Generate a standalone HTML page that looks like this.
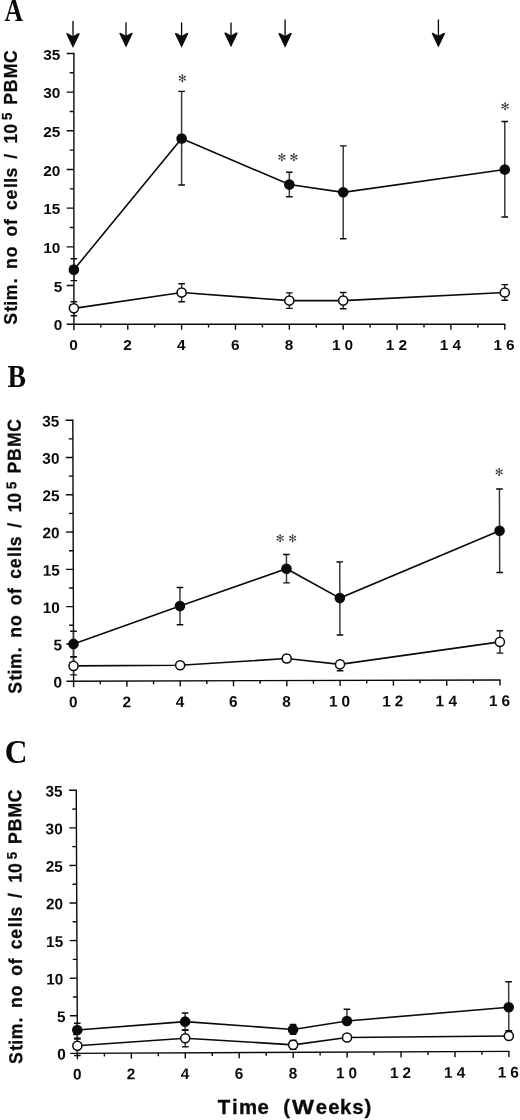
<!DOCTYPE html>
<html lang="en"><head><meta charset="utf-8"><title>Figure</title>
<style>html,body{margin:0;padding:0;background:#fff}body{width:520px;height:1120px;overflow:hidden}svg{display:block}</style>
</head><body>
<svg width="520" height="1120" viewBox="0 0 520 1120">
<rect width="520" height="1120" fill="#fff"/>
<text transform="translate(4.4 21.3) scale(0.84 1)" font-family='"Liberation Serif", serif' font-weight="bold" font-size="30.6" fill="#0a0a0a">A</text>
<text transform="translate(7.6 387) scale(0.9 1)" font-family='"Liberation Serif", serif' font-weight="bold" font-size="30.8" fill="#0a0a0a">B</text>
<text transform="translate(4.8 762.7) scale(0.94 1)" font-family='"Liberation Serif", serif' font-weight="bold" font-size="33.5" fill="#0a0a0a">C</text>
<line x1="73" y1="21" x2="73" y2="40" stroke="#0a0a0a" stroke-width="1.35"/><path d="M73 48 L66.3 33.9 L66.8 33.1 L67.9 33.3 L73 36.2 L78.1 33.3 L79.2 33.1 L79.7 33.9 Z" fill="#0a0a0a"/>
<line x1="126" y1="22.3" x2="126" y2="39.6" stroke="#0a0a0a" stroke-width="1.35"/><path d="M126 47.6 L119.3 33.5 L119.8 32.7 L120.9 32.9 L126 35.8 L131.1 32.9 L132.2 32.7 L132.7 33.5 Z" fill="#0a0a0a"/>
<line x1="181.6" y1="22.5" x2="181.6" y2="39.8" stroke="#0a0a0a" stroke-width="1.35"/><path d="M181.6 47.8 L174.9 33.7 L175.4 32.9 L176.5 33.1 L181.6 36 L186.7 33.1 L187.8 32.9 L188.3 33.7 Z" fill="#0a0a0a"/>
<line x1="231" y1="22.5" x2="231" y2="39.3" stroke="#0a0a0a" stroke-width="1.35"/><path d="M231 47.3 L224.3 33.2 L224.8 32.4 L225.9 32.6 L231 35.5 L236.1 32.6 L237.2 32.4 L237.7 33.2 Z" fill="#0a0a0a"/>
<line x1="285.1" y1="19.5" x2="285.1" y2="39.8" stroke="#0a0a0a" stroke-width="1.35"/><path d="M285.1 47.8 L278.4 33.7 L278.9 32.9 L280 33.1 L285.1 36 L290.2 33.1 L291.3 32.9 L291.8 33.7 Z" fill="#0a0a0a"/>
<line x1="438.4" y1="19.5" x2="438.4" y2="39.6" stroke="#0a0a0a" stroke-width="1.35"/><path d="M438.4 47.6 L431.7 33.5 L432.2 32.7 L433.3 32.9 L438.4 35.8 L443.5 32.9 L444.6 32.7 L445.1 33.5 Z" fill="#0a0a0a"/>
<g transform="rotate(0 73.9 324.2)">
<path d="M73.9 52.87 V330.2 M66.7 324.2 H505.38" stroke="#0a0a0a" stroke-width="1.4" fill="none"/>
<path d="M66.7 285.52H73.9M66.7 246.85H73.9M66.7 208.17H73.9M66.7 169.5H73.9M66.7 130.82H73.9M66.7 92.15H73.9M66.7 53.47H73.9M69.7 304.86H73.9M69.7 266.19H73.9M69.7 227.51H73.9M69.7 188.84H73.9M69.7 150.16H73.9M69.7 111.49H73.9M69.7 72.81H73.9M100.83 324.2V327.4M127.76 324.2V329.8M154.69 324.2V327.4M181.62 324.2V329.8M208.55 324.2V327.4M235.48 324.2V329.8M262.41 324.2V327.4M289.34 324.2V329.8M316.27 324.2V327.4M343.2 324.2V329.8M370.13 324.2V327.4M397.06 324.2V329.8M423.99 324.2V327.4M450.92 324.2V329.8M477.85 324.2V327.4M504.78 324.2V329.8" stroke="#0a0a0a" stroke-width="1.4" fill="none"/>
<text transform="translate(62.4 330.4) scale(1 1)" text-anchor="end" font-family='"Liberation Sans", sans-serif' font-weight="bold" font-size="15.4" letter-spacing="0" fill="#0a0a0a" stroke="#0a0a0a" stroke-width="0">0</text>
<text transform="translate(62.4 291.72) scale(1 1)" text-anchor="end" font-family='"Liberation Sans", sans-serif' font-weight="bold" font-size="15.4" letter-spacing="0" fill="#0a0a0a" stroke="#0a0a0a" stroke-width="0">5</text>
<text transform="translate(60.4 253.05) scale(1 1)" text-anchor="end" font-family='"Liberation Sans", sans-serif' font-weight="bold" font-size="15.4" letter-spacing="0" fill="#0a0a0a" stroke="#0a0a0a" stroke-width="0">10</text>
<text transform="translate(60.4 214.37) scale(1 1)" text-anchor="end" font-family='"Liberation Sans", sans-serif' font-weight="bold" font-size="15.4" letter-spacing="0" fill="#0a0a0a" stroke="#0a0a0a" stroke-width="0">15</text>
<text transform="translate(60.4 175.7) scale(1 1)" text-anchor="end" font-family='"Liberation Sans", sans-serif' font-weight="bold" font-size="15.4" letter-spacing="0" fill="#0a0a0a" stroke="#0a0a0a" stroke-width="0">20</text>
<text transform="translate(60.4 137.02) scale(1 1)" text-anchor="end" font-family='"Liberation Sans", sans-serif' font-weight="bold" font-size="15.4" letter-spacing="0" fill="#0a0a0a" stroke="#0a0a0a" stroke-width="0">25</text>
<text transform="translate(60.4 98.35) scale(1 1)" text-anchor="end" font-family='"Liberation Sans", sans-serif' font-weight="bold" font-size="15.4" letter-spacing="0" fill="#0a0a0a" stroke="#0a0a0a" stroke-width="0">30</text>
<text transform="translate(60.4 59.67) scale(1 1)" text-anchor="end" font-family='"Liberation Sans", sans-serif' font-weight="bold" font-size="15.4" letter-spacing="0" fill="#0a0a0a" stroke="#0a0a0a" stroke-width="0">35</text>
<text transform="translate(73.6 350.3) scale(1 1)" text-anchor="middle" font-family='"Liberation Sans", sans-serif' font-weight="bold" font-size="15.4" fill="#0a0a0a" stroke="#0a0a0a" stroke-width="0">0</text>
<text transform="translate(127.46 350.3) scale(1 1)" text-anchor="middle" font-family='"Liberation Sans", sans-serif' font-weight="bold" font-size="15.4" fill="#0a0a0a" stroke="#0a0a0a" stroke-width="0">2</text>
<text transform="translate(181.32 350.3) scale(1 1)" text-anchor="middle" font-family='"Liberation Sans", sans-serif' font-weight="bold" font-size="15.4" fill="#0a0a0a" stroke="#0a0a0a" stroke-width="0">4</text>
<text transform="translate(235.18 350.3) scale(1 1)" text-anchor="middle" font-family='"Liberation Sans", sans-serif' font-weight="bold" font-size="15.4" fill="#0a0a0a" stroke="#0a0a0a" stroke-width="0">6</text>
<text transform="translate(289.04 350.3) scale(1 1)" text-anchor="middle" font-family='"Liberation Sans", sans-serif' font-weight="bold" font-size="15.4" fill="#0a0a0a" stroke="#0a0a0a" stroke-width="0">8</text>
<text transform="translate(343.2 350.3) scale(1 1)" x="-11.2 1.29" font-family='"Liberation Sans", sans-serif' font-weight="bold" font-size="15.4" fill="#0a0a0a" stroke="#0a0a0a" stroke-width="0">10</text>
<text transform="translate(397.06 350.3) scale(1 1)" x="-11.2 1.37" font-family='"Liberation Sans", sans-serif' font-weight="bold" font-size="15.4" fill="#0a0a0a" stroke="#0a0a0a" stroke-width="0">12</text>
<text transform="translate(450.92 350.3) scale(1 1)" x="-11.2 1.67" font-family='"Liberation Sans", sans-serif' font-weight="bold" font-size="15.4" fill="#0a0a0a" stroke="#0a0a0a" stroke-width="0">14</text>
<text transform="translate(504.78 350.3) scale(1 1)" x="-11.2 1.34" font-family='"Liberation Sans", sans-serif' font-weight="bold" font-size="15.4" fill="#0a0a0a" stroke="#0a0a0a" stroke-width="0">16</text>
<path d="M73.9 258.68V280.65M181.62 91.38V184.97M289.34 172.21V196.8M343.2 145.91V238.73M504.78 121.54V217.07" stroke="#3a3a3a" stroke-width="1.5" fill="none"/>
<path d="M70.6 258.68H77.2M70.6 280.65H77.2M178.32 91.38H184.92M178.32 184.97H184.92M286.04 172.21H292.64M286.04 196.8H292.64M339.9 145.91H346.5M339.9 238.73H346.5M501.48 121.54H508.08M501.48 217.07H508.08" stroke="#0a0a0a" stroke-width="1.4" fill="none"/>
<polyline points="73.9,269.67 181.62,138.56 289.34,184.58 343.2,192.32 504.78,169.5" stroke="#0a0a0a" stroke-width="1.6" fill="none"/>
<circle cx="73.9" cy="269.67" r="5.3" fill="#0a0a0a"/>
<circle cx="181.62" cy="138.56" r="5.3" fill="#0a0a0a"/>
<circle cx="289.34" cy="184.58" r="5.3" fill="#0a0a0a"/>
<circle cx="343.2" cy="192.32" r="5.3" fill="#0a0a0a"/>
<circle cx="504.78" cy="169.5" r="5.3" fill="#0a0a0a"/>
<path d="M73.9 301.77V315.69M181.62 283.82V301.69M289.34 292.87V308.34M343.2 292.49V308.73M504.78 284.6V300.22" stroke="#3a3a3a" stroke-width="1.5" fill="none"/>
<path d="M70.6 301.77H77.2M70.6 315.69H77.2M178.32 283.82H184.92M178.32 301.69H184.92M286.04 292.87H292.64M286.04 308.34H292.64M339.9 292.49H346.5M339.9 308.73H346.5M501.48 284.6H508.08M501.48 300.22H508.08" stroke="#0a0a0a" stroke-width="1.4" fill="none"/>
<polyline points="73.9,308.34 181.62,292.56 289.34,300.61 343.2,300.61 504.78,292.49" stroke="#0a0a0a" stroke-width="1.6" fill="none"/>
<circle cx="73.9" cy="308.34" r="4.55" fill="#fff" stroke="#0a0a0a" stroke-width="1.5"/>
<circle cx="181.62" cy="292.56" r="4.55" fill="#fff" stroke="#0a0a0a" stroke-width="1.5"/>
<circle cx="289.34" cy="300.61" r="4.55" fill="#fff" stroke="#0a0a0a" stroke-width="1.5"/>
<circle cx="343.2" cy="300.61" r="4.55" fill="#fff" stroke="#0a0a0a" stroke-width="1.5"/>
<circle cx="504.78" cy="292.49" r="4.55" fill="#fff" stroke="#0a0a0a" stroke-width="1.5"/>
<text x="182.5" y="82.1" text-anchor="middle" font-family='"DejaVu Sans", sans-serif' font-size="10.5" fill="#333">&#x273B;</text>
<text x="282" y="161.1" text-anchor="middle" font-family='"DejaVu Sans", sans-serif' font-size="10.5" fill="#333">&#x273B;</text>
<text x="294" y="161.1" text-anchor="middle" font-family='"DejaVu Sans", sans-serif' font-size="10.5" fill="#333">&#x273B;</text>
<text x="505.1" y="110.1" text-anchor="middle" font-family='"DejaVu Sans", sans-serif' font-size="10.5" fill="#333">&#x273B;</text>
<g transform="translate(16.8 0) rotate(-90) scale(0.94 1)" font-family='"Liberation Sans", sans-serif' font-weight="bold" font-size="18.8" fill="#0a0a0a" stroke="#0a0a0a" stroke-width="0.25">
<text y="0" x="-345.54 -331.61 -325.25 -319.32 -301.38 -293.38 -286.13 -273.61 -265.61 -251.59 -239.47 -231.47 -223.39 -212.22 -200.14 -194.29 -188.75 -180.75 -169.01 -161.01 -152.67 -142.34">Stim. no of cells / 10</text>
<text y="-4.6" x="-127.77" font-size="14">5</text>
<text y="0" x="-111.47 -98.07 -83.28 -67.05">PBMC</text>
</g>
</g>
<g transform="rotate(-0.17 73.6 681.2)">
<path d="M73.6 419.61 V687.2 M66.4 681.2 H500.6" stroke="#0a0a0a" stroke-width="1.4" fill="none"/>
<path d="M66.4 643.92H73.6M66.4 606.63H73.6M66.4 569.35H73.6M66.4 532.06H73.6M66.4 494.78H73.6M66.4 457.49H73.6M66.4 420.21H73.6M69.4 662.56H73.6M69.4 625.27H73.6M69.4 587.99H73.6M69.4 550.7H73.6M69.4 513.42H73.6M69.4 476.13H73.6M69.4 438.85H73.6M100.25 681.2V684.4M126.9 681.2V686.8M153.55 681.2V684.4M180.2 681.2V686.8M206.85 681.2V684.4M233.5 681.2V686.8M260.15 681.2V684.4M286.8 681.2V686.8M313.45 681.2V684.4M340.1 681.2V686.8M366.75 681.2V684.4M393.4 681.2V686.8M420.05 681.2V684.4M446.7 681.2V686.8M473.35 681.2V684.4M500 681.2V686.8" stroke="#0a0a0a" stroke-width="1.4" fill="none"/>
<text transform="translate(62.1 687.4) scale(1 1)" text-anchor="end" font-family='"Liberation Sans", sans-serif' font-weight="bold" font-size="15.4" letter-spacing="0" fill="#0a0a0a" stroke="#0a0a0a" stroke-width="0">0</text>
<text transform="translate(62.1 650.12) scale(1 1)" text-anchor="end" font-family='"Liberation Sans", sans-serif' font-weight="bold" font-size="15.4" letter-spacing="0" fill="#0a0a0a" stroke="#0a0a0a" stroke-width="0">5</text>
<text transform="translate(60.1 612.83) scale(1 1)" text-anchor="end" font-family='"Liberation Sans", sans-serif' font-weight="bold" font-size="15.4" letter-spacing="0" fill="#0a0a0a" stroke="#0a0a0a" stroke-width="0">10</text>
<text transform="translate(60.1 575.55) scale(1 1)" text-anchor="end" font-family='"Liberation Sans", sans-serif' font-weight="bold" font-size="15.4" letter-spacing="0" fill="#0a0a0a" stroke="#0a0a0a" stroke-width="0">15</text>
<text transform="translate(60.1 538.26) scale(1 1)" text-anchor="end" font-family='"Liberation Sans", sans-serif' font-weight="bold" font-size="15.4" letter-spacing="0" fill="#0a0a0a" stroke="#0a0a0a" stroke-width="0">20</text>
<text transform="translate(60.1 500.98) scale(1 1)" text-anchor="end" font-family='"Liberation Sans", sans-serif' font-weight="bold" font-size="15.4" letter-spacing="0" fill="#0a0a0a" stroke="#0a0a0a" stroke-width="0">25</text>
<text transform="translate(60.1 463.69) scale(1 1)" text-anchor="end" font-family='"Liberation Sans", sans-serif' font-weight="bold" font-size="15.4" letter-spacing="0" fill="#0a0a0a" stroke="#0a0a0a" stroke-width="0">30</text>
<text transform="translate(60.1 426.41) scale(1 1)" text-anchor="end" font-family='"Liberation Sans", sans-serif' font-weight="bold" font-size="15.4" letter-spacing="0" fill="#0a0a0a" stroke="#0a0a0a" stroke-width="0">35</text>
<text transform="translate(73.3 707.3) scale(1 1)" text-anchor="middle" font-family='"Liberation Sans", sans-serif' font-weight="bold" font-size="15.4" fill="#0a0a0a" stroke="#0a0a0a" stroke-width="0">0</text>
<text transform="translate(126.6 707.3) scale(1 1)" text-anchor="middle" font-family='"Liberation Sans", sans-serif' font-weight="bold" font-size="15.4" fill="#0a0a0a" stroke="#0a0a0a" stroke-width="0">2</text>
<text transform="translate(179.9 707.3) scale(1 1)" text-anchor="middle" font-family='"Liberation Sans", sans-serif' font-weight="bold" font-size="15.4" fill="#0a0a0a" stroke="#0a0a0a" stroke-width="0">4</text>
<text transform="translate(233.2 707.3) scale(1 1)" text-anchor="middle" font-family='"Liberation Sans", sans-serif' font-weight="bold" font-size="15.4" fill="#0a0a0a" stroke="#0a0a0a" stroke-width="0">6</text>
<text transform="translate(286.5 707.3) scale(1 1)" text-anchor="middle" font-family='"Liberation Sans", sans-serif' font-weight="bold" font-size="15.4" fill="#0a0a0a" stroke="#0a0a0a" stroke-width="0">8</text>
<text transform="translate(340.1 707.3) scale(1 1)" x="-11.2 1.29" font-family='"Liberation Sans", sans-serif' font-weight="bold" font-size="15.4" fill="#0a0a0a" stroke="#0a0a0a" stroke-width="0">10</text>
<text transform="translate(393.4 707.3) scale(1 1)" x="-11.2 1.37" font-family='"Liberation Sans", sans-serif' font-weight="bold" font-size="15.4" fill="#0a0a0a" stroke="#0a0a0a" stroke-width="0">12</text>
<text transform="translate(446.7 707.3) scale(1 1)" x="-11.2 1.67" font-family='"Liberation Sans", sans-serif' font-weight="bold" font-size="15.4" fill="#0a0a0a" stroke="#0a0a0a" stroke-width="0">14</text>
<text transform="translate(500 707.3) scale(1 1)" x="-11.2 1.34" font-family='"Liberation Sans", sans-serif' font-weight="bold" font-size="15.4" fill="#0a0a0a" stroke="#0a0a0a" stroke-width="0">16</text>
<path d="M73.6 631.24V656.59M180.2 587.76V625.05M286.8 555.18V583.51M340.1 562.71V635.79M500 490.3V573.82" stroke="#3a3a3a" stroke-width="1.5" fill="none"/>
<path d="M70.3 631.24H76.9M70.3 656.59H76.9M176.9 587.76H183.5M176.9 625.05H183.5M283.5 555.18H290.1M283.5 583.51H290.1M336.8 562.71H343.4M336.8 635.79H343.4M496.7 490.3H503.3M496.7 573.82H503.3" stroke="#0a0a0a" stroke-width="1.4" fill="none"/>
<polyline points="73.6,643.92 180.2,606.41 286.8,569.35 340.1,598.87 500,532.06" stroke="#0a0a0a" stroke-width="1.6" fill="none"/>
<circle cx="73.6" cy="643.92" r="5.3" fill="#0a0a0a"/>
<circle cx="180.2" cy="606.41" r="5.3" fill="#0a0a0a"/>
<circle cx="286.8" cy="569.35" r="5.3" fill="#0a0a0a"/>
<circle cx="340.1" cy="598.87" r="5.3" fill="#0a0a0a"/>
<circle cx="500" cy="532.06" r="5.3" fill="#0a0a0a"/>
<path d="M73.6 656.96V674.86M286.8 655.47V662.93M340.1 661.44V671.51M500 631.98V654.35" stroke="#3a3a3a" stroke-width="1.5" fill="none"/>
<path d="M70.3 656.96H76.9M70.3 674.86H76.9M283.5 655.47H290.1M283.5 662.93H290.1M336.8 661.44H343.4M336.8 671.51H343.4M496.7 631.98H503.3M496.7 654.35H503.3" stroke="#0a0a0a" stroke-width="1.4" fill="none"/>
<polyline points="73.6,665.91 180.2,665.54 286.8,659.2 340.1,665.17 500,643.17" stroke="#0a0a0a" stroke-width="1.6" fill="none"/>
<circle cx="73.6" cy="665.91" r="4.55" fill="#fff" stroke="#0a0a0a" stroke-width="1.5"/>
<circle cx="180.2" cy="665.54" r="4.55" fill="#fff" stroke="#0a0a0a" stroke-width="1.5"/>
<circle cx="286.8" cy="659.2" r="4.55" fill="#fff" stroke="#0a0a0a" stroke-width="1.5"/>
<circle cx="340.1" cy="665.17" r="4.55" fill="#fff" stroke="#0a0a0a" stroke-width="1.5"/>
<circle cx="500" cy="643.17" r="4.55" fill="#fff" stroke="#0a0a0a" stroke-width="1.5"/>
<text x="280.5" y="542.6" text-anchor="middle" font-family='"DejaVu Sans", sans-serif' font-size="10.5" fill="#333">&#x273B;</text>
<text x="293" y="542.6" text-anchor="middle" font-family='"DejaVu Sans", sans-serif' font-size="10.5" fill="#333">&#x273B;</text>
<text x="499.7" y="477" text-anchor="middle" font-family='"DejaVu Sans", sans-serif' font-size="10.5" fill="#333">&#x273B;</text>
<g transform="translate(21.4 0) rotate(-90) scale(0.94 1)" font-family='"Liberation Sans", sans-serif' font-weight="bold" font-size="18.8" fill="#0a0a0a" stroke="#0a0a0a" stroke-width="0.25">
<text y="0" x="-737.78 -723.85 -717.48 -711.56 -693.62 -685.62 -678.37 -665.84 -657.84 -643.82 -631.7 -623.7 -615.63 -604.46 -592.38 -586.53 -580.98 -572.98 -561.25 -553.25 -544.91 -534.57">Stim. no of cells / 10</text>
<text y="-4.6" x="-520.01" font-size="14">5</text>
<text y="0" x="-503.7 -490.3 -475.51 -459.28">PBMC</text>
</g>
</g>
<g transform="rotate(-0.25 77.4 1053.3)">
<path d="M77.4 789.67 V1059.3 M70.2 1053.3 H509.52" stroke="#0a0a0a" stroke-width="1.4" fill="none"/>
<path d="M70.2 1015.72H77.4M70.2 978.15H77.4M70.2 940.57H77.4M70.2 903H77.4M70.2 865.42H77.4M70.2 827.85H77.4M70.2 790.27H77.4M73.2 1034.51H77.4M73.2 996.94H77.4M73.2 959.36H77.4M73.2 921.79H77.4M73.2 884.21H77.4M73.2 846.64H77.4M73.2 809.06H77.4M104.37 1053.3V1056.5M131.34 1053.3V1058.9M158.31 1053.3V1056.5M185.28 1053.3V1058.9M212.25 1053.3V1056.5M239.22 1053.3V1058.9M266.19 1053.3V1056.5M293.16 1053.3V1058.9M320.13 1053.3V1056.5M347.1 1053.3V1058.9M374.07 1053.3V1056.5M401.04 1053.3V1058.9M428.01 1053.3V1056.5M454.98 1053.3V1058.9M481.95 1053.3V1056.5M508.92 1053.3V1058.9" stroke="#0a0a0a" stroke-width="1.4" fill="none"/>
<text transform="translate(65.7 1059.5) scale(1 1)" text-anchor="end" font-family='"Liberation Sans", sans-serif' font-weight="bold" font-size="15.4" letter-spacing="0" fill="#0a0a0a" stroke="#0a0a0a" stroke-width="0">0</text>
<text transform="translate(65.7 1021.92) scale(1 1)" text-anchor="end" font-family='"Liberation Sans", sans-serif' font-weight="bold" font-size="15.4" letter-spacing="0" fill="#0a0a0a" stroke="#0a0a0a" stroke-width="0">5</text>
<text transform="translate(63.7 984.35) scale(1 1)" text-anchor="end" font-family='"Liberation Sans", sans-serif' font-weight="bold" font-size="15.4" letter-spacing="0" fill="#0a0a0a" stroke="#0a0a0a" stroke-width="0">10</text>
<text transform="translate(63.7 946.77) scale(1 1)" text-anchor="end" font-family='"Liberation Sans", sans-serif' font-weight="bold" font-size="15.4" letter-spacing="0" fill="#0a0a0a" stroke="#0a0a0a" stroke-width="0">15</text>
<text transform="translate(63.7 909.2) scale(1 1)" text-anchor="end" font-family='"Liberation Sans", sans-serif' font-weight="bold" font-size="15.4" letter-spacing="0" fill="#0a0a0a" stroke="#0a0a0a" stroke-width="0">20</text>
<text transform="translate(63.7 871.62) scale(1 1)" text-anchor="end" font-family='"Liberation Sans", sans-serif' font-weight="bold" font-size="15.4" letter-spacing="0" fill="#0a0a0a" stroke="#0a0a0a" stroke-width="0">25</text>
<text transform="translate(63.7 834.05) scale(1 1)" text-anchor="end" font-family='"Liberation Sans", sans-serif' font-weight="bold" font-size="15.4" letter-spacing="0" fill="#0a0a0a" stroke="#0a0a0a" stroke-width="0">30</text>
<text transform="translate(63.7 796.48) scale(1 1)" text-anchor="end" font-family='"Liberation Sans", sans-serif' font-weight="bold" font-size="15.4" letter-spacing="0" fill="#0a0a0a" stroke="#0a0a0a" stroke-width="0">35</text>
<text transform="translate(77.1 1079.4) scale(1 1)" text-anchor="middle" font-family='"Liberation Sans", sans-serif' font-weight="bold" font-size="15.4" fill="#0a0a0a" stroke="#0a0a0a" stroke-width="0">0</text>
<text transform="translate(131.04 1079.4) scale(1 1)" text-anchor="middle" font-family='"Liberation Sans", sans-serif' font-weight="bold" font-size="15.4" fill="#0a0a0a" stroke="#0a0a0a" stroke-width="0">2</text>
<text transform="translate(184.98 1079.4) scale(1 1)" text-anchor="middle" font-family='"Liberation Sans", sans-serif' font-weight="bold" font-size="15.4" fill="#0a0a0a" stroke="#0a0a0a" stroke-width="0">4</text>
<text transform="translate(238.92 1079.4) scale(1 1)" text-anchor="middle" font-family='"Liberation Sans", sans-serif' font-weight="bold" font-size="15.4" fill="#0a0a0a" stroke="#0a0a0a" stroke-width="0">6</text>
<text transform="translate(292.86 1079.4) scale(1 1)" text-anchor="middle" font-family='"Liberation Sans", sans-serif' font-weight="bold" font-size="15.4" fill="#0a0a0a" stroke="#0a0a0a" stroke-width="0">8</text>
<text transform="translate(347.1 1079.4) scale(1 1)" x="-11.2 1.29" font-family='"Liberation Sans", sans-serif' font-weight="bold" font-size="15.4" fill="#0a0a0a" stroke="#0a0a0a" stroke-width="0">10</text>
<text transform="translate(401.04 1079.4) scale(1 1)" x="-11.2 1.37" font-family='"Liberation Sans", sans-serif' font-weight="bold" font-size="15.4" fill="#0a0a0a" stroke="#0a0a0a" stroke-width="0">12</text>
<text transform="translate(454.98 1079.4) scale(1 1)" x="-11.2 1.67" font-family='"Liberation Sans", sans-serif' font-weight="bold" font-size="15.4" fill="#0a0a0a" stroke="#0a0a0a" stroke-width="0">14</text>
<text transform="translate(508.92 1079.4) scale(1 1)" x="-11.2 1.34" font-family='"Liberation Sans", sans-serif' font-weight="bold" font-size="15.4" fill="#0a0a0a" stroke="#0a0a0a" stroke-width="0">16</text>
<path d="M77.4 1023.24V1038.27M185.28 1013.47V1030.75M293.16 1025.49V1035.26M347.1 1010.46V1022.11M508.92 983.64V1032.86" stroke="#3a3a3a" stroke-width="1.5" fill="none"/>
<path d="M74.1 1023.24H80.7M74.1 1038.27H80.7M181.98 1013.47H188.58M181.98 1030.75H188.58M289.86 1025.49H296.46M289.86 1035.26H296.46M343.8 1010.46H350.4M505.62 983.64H512.22M505.62 1032.86H512.22" stroke="#0a0a0a" stroke-width="1.4" fill="none"/>
<polyline points="77.4,1030 185.28,1022.11 293.16,1030.38 347.1,1022.11 508.92,1009.19" stroke="#0a0a0a" stroke-width="1.6" fill="none"/>
<circle cx="77.4" cy="1030" r="5.3" fill="#0a0a0a"/>
<circle cx="185.28" cy="1022.11" r="5.3" fill="#0a0a0a"/>
<circle cx="293.16" cy="1030.38" r="5.3" fill="#0a0a0a"/>
<circle cx="347.1" cy="1022.11" r="5.3" fill="#0a0a0a"/>
<circle cx="508.92" cy="1009.19" r="5.3" fill="#0a0a0a"/>
<path d="M77.4 1039.02V1055.55M185.28 1030.38V1047.29M293.16 1041.28V1050.29M508.92 1032.63V1037.89" stroke="#3a3a3a" stroke-width="1.5" fill="none"/>
<path d="M74.1 1039.02H80.7M74.1 1055.55H80.7M181.98 1030.38H188.58M181.98 1047.29H188.58M289.86 1041.28H296.46M289.86 1050.29H296.46M505.62 1032.63H512.22" stroke="#0a0a0a" stroke-width="1.4" fill="none"/>
<polyline points="77.4,1045.78 185.28,1038.65 293.16,1045.78 347.1,1038.65 508.92,1037.89" stroke="#0a0a0a" stroke-width="1.6" fill="none"/>
<circle cx="77.4" cy="1045.78" r="4.55" fill="#fff" stroke="#0a0a0a" stroke-width="1.5"/>
<circle cx="185.28" cy="1038.65" r="4.55" fill="#fff" stroke="#0a0a0a" stroke-width="1.5"/>
<circle cx="293.16" cy="1045.78" r="4.55" fill="#fff" stroke="#0a0a0a" stroke-width="1.5"/>
<circle cx="347.1" cy="1038.65" r="4.55" fill="#fff" stroke="#0a0a0a" stroke-width="1.5"/>
<circle cx="508.92" cy="1037.89" r="4.55" fill="#fff" stroke="#0a0a0a" stroke-width="1.5"/>
<g transform="translate(22.3 0) rotate(-90) scale(0.94 1)" font-family='"Liberation Sans", sans-serif' font-weight="bold" font-size="18.8" fill="#0a0a0a" stroke="#0a0a0a" stroke-width="0.25">
<text y="0" x="-1131.61 -1117.68 -1111.31 -1105.39 -1087.45 -1079.45 -1072.2 -1059.67 -1051.67 -1037.65 -1025.53 -1017.53 -1009.46 -998.29 -986.21 -980.36 -974.81 -966.81 -955.08 -947.08 -938.74 -928.4">Stim. no of cells / 10</text>
<text y="-4.6" x="-913.83" font-size="14">5</text>
<text y="0" x="-897.53 -884.13 -869.34 -853.11">PBMC</text>
</g>
</g>
<text transform="translate(0 1114.3) scale(1.03 1)" x="211.33 225.22 232 250.1 262.52 274.94 283.4 306.51 318.64 330.17 342.02 353.96" font-family='"Liberation Sans", sans-serif' font-weight="bold" font-size="19.8" fill="#0a0a0a" stroke="#0a0a0a" stroke-width="0.3">Time (<tspan textLength="21.36" lengthAdjust="spacingAndGlyphs">W</tspan>eeks)</text>
</svg></body></html>
